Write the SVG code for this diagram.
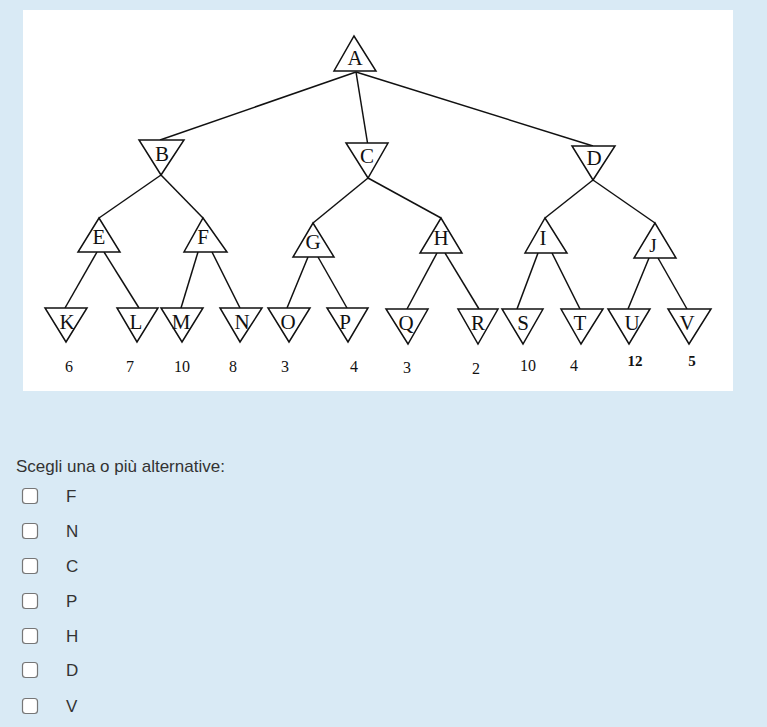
<svg xmlns="http://www.w3.org/2000/svg" width="767" height="727" viewBox="0 0 767 727">
<style>
.tri{fill:#fff;stroke:#111;stroke-width:1.5;stroke-linejoin:miter}
.lbl{font-family:"Liberation Serif","Times New Roman",serif;font-size:21px;fill:#111;text-anchor:middle}
.val{font-family:"Liberation Serif","Times New Roman",serif;font-size:16px;fill:#111;text-anchor:middle}
.valb{font-family:"Liberation Serif","Times New Roman",serif;font-size:15px;font-weight:bold;fill:#111;text-anchor:middle}
.edge{stroke:#111;stroke-width:1.5;fill:none}
.ui{font-family:"Liberation Sans",Arial,sans-serif;font-size:17px;fill:#333}
.cb{fill:#fff;stroke:#767676;stroke-width:1.2}
</style>
<rect x="0" y="0" width="767" height="727" fill="#d9eaf5"/>
<rect x="23" y="10" width="710" height="381" fill="#fff"/>
<g id="connectors">
<line class="edge" x1="356" y1="72" x2="160" y2="140"/>
<line class="edge" x1="356" y1="72" x2="368" y2="146"/>
<line class="edge" x1="356" y1="72" x2="593" y2="146"/>
<line class="edge" x1="161" y1="175" x2="99" y2="218"/>
<line class="edge" x1="161" y1="175" x2="203" y2="218"/>
<line class="edge" x1="368" y1="178" x2="313" y2="223"/>
<line class="edge" x1="368" y1="178" x2="441" y2="218"/>
<line class="edge" x1="593" y1="180" x2="545" y2="218"/>
<line class="edge" x1="593" y1="180" x2="655" y2="223"/>
<line class="edge" x1="97" y1="252" x2="65" y2="308"/>
<line class="edge" x1="104" y1="252" x2="139" y2="308"/>
<line class="edge" x1="198" y1="252" x2="181" y2="308"/>
<line class="edge" x1="212" y1="252" x2="240" y2="308"/>
<line class="edge" x1="308" y1="257" x2="287" y2="308"/>
<line class="edge" x1="318" y1="257" x2="347" y2="308"/>
<line class="edge" x1="437" y1="253" x2="407" y2="309"/>
<line class="edge" x1="445" y1="253" x2="479" y2="309"/>
<line class="edge" x1="538" y1="253" x2="517" y2="309"/>
<line class="edge" x1="552" y1="253" x2="580" y2="309"/>
<line class="edge" x1="649" y1="258" x2="628" y2="309"/>
<line class="edge" x1="658" y1="258" x2="687" y2="309"/>
</g>
<g id="node-A"><polygon class="tri" points="334,71 376,71 354,36"/><text class="lbl" x="355" y="65">A</text></g>
<g id="node-B"><polygon class="tri" points="139,140 184,140 161,175"/><text class="lbl" x="162" y="161">B</text></g>
<g id="node-C"><polygon class="tri" points="346,143 388,143 368,178"/><text class="lbl" x="367" y="163">C</text></g>
<g id="node-D"><polygon class="tri" points="572,146 615,146 593,180"/><text class="lbl" x="594" y="165">D</text></g>
<g id="node-E"><polygon class="tri" points="78,252 120,252 99,218"/><text class="lbl" x="99" y="244">E</text></g>
<g id="node-F"><polygon class="tri" points="184,252 227,252 203,218"/><text class="lbl" x="203" y="244">F</text></g>
<g id="node-G"><polygon class="tri" points="293,257 334,257 313,223"/><text class="lbl" x="313" y="249">G</text></g>
<g id="node-H"><polygon class="tri" points="420,253 462,253 441,218"/><text class="lbl" x="441" y="245">H</text></g>
<g id="node-I"><polygon class="tri" points="525,253 567,253 545,218"/><text class="lbl" x="543" y="245">I</text></g>
<g id="node-J"><polygon class="tri" points="634,258 676,258 655,223"/><text class="lbl" x="653" y="252" style="font-size:19px">J</text></g>
<g id="node-K"><polygon class="tri" points="45,308 87,308 66,342"/><text class="lbl" x="67" y="329">K</text></g>
<g id="node-L"><polygon class="tri" points="117,308 158,308 137,342"/><text class="lbl" x="136" y="329">L</text></g>
<g id="node-M"><polygon class="tri" points="161,308 203,308 182,342"/><text class="lbl" x="181" y="329">M</text></g>
<g id="node-N"><polygon class="tri" points="220,308 262,308 240,342"/><text class="lbl" x="242" y="329">N</text></g>
<g id="node-O"><polygon class="tri" points="268,308 310,308 289,342"/><text class="lbl" x="288" y="329">O</text></g>
<g id="node-P"><polygon class="tri" points="327,308 368,308 348,342"/><text class="lbl" x="345" y="329">P</text></g>
<g id="node-Q"><polygon class="tri" points="386,309 428,309 408,344"/><text class="lbl" x="406" y="330">Q</text></g>
<g id="node-R"><polygon class="tri" points="458,309 498,309 478,344"/><text class="lbl" x="478" y="330">R</text></g>
<g id="node-S"><polygon class="tri" points="502,309 543,309 523,344"/><text class="lbl" x="523" y="330">S</text></g>
<g id="node-T"><polygon class="tri" points="561,309 603,309 581,344"/><text class="lbl" x="580" y="330">T</text></g>
<g id="node-U"><polygon class="tri" points="608,309 650,309 629,344"/><text class="lbl" x="632" y="330">U</text></g>
<g id="node-V"><polygon class="tri" points="668,309 711,309 689,344"/><text class="lbl" x="687" y="330">V</text></g>
<g id="values">
<text class="val" x="69" y="372">6</text>
<text class="val" x="130" y="372">7</text>
<text class="val" x="182" y="372">10</text>
<text class="val" x="233" y="372">8</text>
<text class="val" x="285" y="372">3</text>
<text class="val" x="354" y="372">4</text>
<text class="val" x="407" y="373">3</text>
<text class="val" x="476" y="374">2</text>
<text class="val" x="528" y="371">10</text>
<text class="val" x="574" y="371">4</text>
<text class="valb" x="635" y="366">12</text>
<text class="valb" x="692" y="366">5</text>
</g>
<g id="question">
<text class="ui" x="16" y="472">Scegli una o più alternative:</text>
<rect class="cb" x="22.5" y="488.5" width="15" height="15" rx="3"/><text class="ui" x="66" y="502">F</text>
<rect class="cb" x="22.5" y="523.5" width="15" height="15" rx="3"/><text class="ui" x="66" y="537">N</text>
<rect class="cb" x="22.5" y="558.5" width="15" height="15" rx="3"/><text class="ui" x="66" y="572">C</text>
<rect class="cb" x="22.5" y="593.5" width="15" height="15" rx="3"/><text class="ui" x="66" y="607">P</text>
<rect class="cb" x="22.5" y="628.5" width="15" height="15" rx="3"/><text class="ui" x="66" y="642">H</text>
<rect class="cb" x="22.5" y="662.5" width="15" height="15" rx="3"/><text class="ui" x="66" y="676">D</text>
<rect class="cb" x="22.5" y="698.5" width="15" height="15" rx="3"/><text class="ui" x="66" y="712">V</text>
</g>
</svg>
